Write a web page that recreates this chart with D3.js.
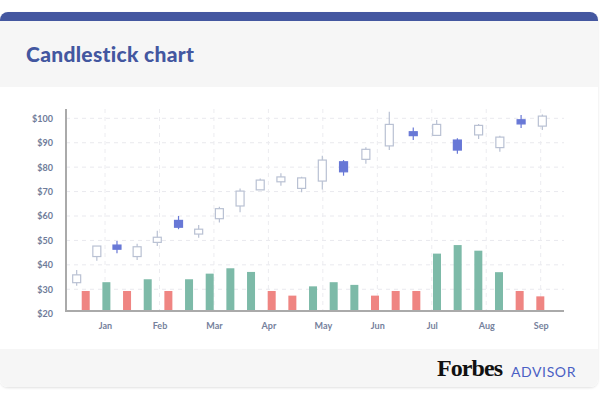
<!DOCTYPE html>
<html><head><meta charset="utf-8">
<script src="https://cdn.jsdelivr.net/npm/d3@7"></script>
<style>
html,body{margin:0;padding:0;background:#fff;}
svg{display:block;}
</style></head>
<body>
<svg id="c" width="600" height="400"></svg>
<script>
// ---- data ----
const monthLabels = ["Jan","Feb","Mar","Apr","May","Jun","Jul","Aug","Sep"];
const priceTicks = [20,30,40,50,60,70,80,90,100];
// candle time positions (in months, 0 = Jan)
const candleTime = [-0.52,-0.15,0.22,0.59,0.96,1.35,1.72,2.10,2.48,2.85,3.23,3.61,3.99,4.38,4.79,5.22,5.66,6.09,6.47,6.86,7.25,7.64,8.03];
const openPrice  = [32.7,43.4,48.1,43.4,49.2,58.2,52.6,58.9,64.1,70.7,74.0,71.3,74.3,82.2,83.2,88.7,94.5,93.0,91.1,93.2,88.0,99.4,96.8];
const closePrice = [35.9,47.7,46.4,47.4,51.3,55.4,54.6,63.0,70.2,74.7,76.0,75.6,82.9,78.1,87.3,97.5,92.9,97.5,87.0,97.1,92.3,97.7,100.9];
const highPrice  = [37.9,47.7,49.8,48.6,54.0,60.0,56.3,63.8,71.3,75.4,77.5,76.1,84.7,82.9,88.1,102.7,96.2,99.3,91.8,97.7,92.9,101.4,101.6];
const lowPrice   = [31.4,41.7,44.7,42.0,47.7,54.6,51.1,57.3,61.5,70.7,72.4,69.7,70.9,76.5,81.4,87.0,91.1,93.0,85.5,91.5,86.3,96.0,95.2];
// volume bars (read against the price axis)
const volume   = [29.3,32.9,29.3,34.1,29.3,34.1,36.4,38.6,37.1,29.3,27.4,31.2,32.9,31.8,27.4,29.3,29.3,44.6,48.1,45.8,37.0,29.3,27.1];
const volumeUp = [0,1,0,1,0,1,1,1,1,0,0,1,1,1,0,0,0,1,1,1,1,0,0];
const volumeStart = -0.354, volumeEnd = 7.993; // months

// ---- layout ----
const svg = d3.select("#c");
const W = 600;
const card = {x:0, y:12, w:598, h:375};
const defs = svg.append("defs");
defs.append("clipPath").attr("id","cardClip").append("rect")
  .attr("x",card.x).attr("y",card.y).attr("width",card.w).attr("height",card.h).attr("rx",8);
const f = defs.append("filter").attr("id","sh").attr("x","-5%").attr("y","-5%").attr("width","110%").attr("height","115%");
f.append("feDropShadow").attr("dx",0).attr("dy",1).attr("stdDeviation",1.2).attr("flood-color","#000").attr("flood-opacity",0.12);

svg.append("rect").attr("x",card.x).attr("y",card.y).attr("width",card.w).attr("height",card.h)
  .attr("rx",8).attr("fill","#fff").attr("filter","url(#sh)");
const cg = svg.append("g").attr("clip-path","url(#cardClip)");
cg.append("rect").attr("x",0).attr("y",12).attr("width",W).attr("height",9).attr("fill","#4457a0");
cg.append("rect").attr("x",0).attr("y",21).attr("width",W).attr("height",66).attr("fill","#f6f6f6");
cg.append("rect").attr("x",0).attr("y",87).attr("width",W).attr("height",262).attr("fill","#ffffff");
cg.append("rect").attr("x",0).attr("y",349).attr("width",W).attr("height",40).attr("fill","#f6f6f6");

svg.append("text").attr("x",26).attr("y",62)
  .attr("font-family","Lato, 'Open Sans', sans-serif").attr("font-weight",900).attr("font-size",21)
  .attr("letter-spacing",0.3)
  .attr("fill","#4357a0").text("Candlestick chart");

// ---- scales ----
const x = d3.scaleLinear().domain([0, monthLabels.length-1]).range([105, 540.7]);
const y = d3.scaleLinear().domain([20,100]).range([313.7,118.3]);
const baseY = 311, axisLeftX = 66, gridRight = 564, gridTop = 109;
const xb = d3.scalePoint().domain(d3.range(volume.length)).range([x(volumeStart), x(volumeEnd)]);

const chart = svg.append("g");

// grid
chart.append("g").selectAll("line").data(priceTicks.filter(d=>d>20)).join("line")
  .attr("x1",axisLeftX).attr("x2",gridRight).attr("y1",d=>y(d)).attr("y2",d=>y(d))
  .attr("stroke","#e9e9ee").attr("stroke-width",1).attr("stroke-dasharray","4,4");
chart.append("g").selectAll("line").data(monthLabels).join("line")
  .attr("x1",(d,i)=>x(i)).attr("x2",(d,i)=>x(i)).attr("y1",gridTop).attr("y2",baseY)
  .attr("stroke","#ececf0").attr("stroke-width",1).attr("stroke-dasharray","4,4");

// y axis labels
const yAxis = d3.axisLeft(y).tickValues(priceTicks).tickSize(0).tickPadding(13).tickFormat(d=>"$"+d);
const ya = chart.append("g").attr("transform",`translate(${axisLeftX},0)`).call(yAxis);
ya.select(".domain").remove();
ya.selectAll("text").attr("font-family","Lato, sans-serif").attr("font-weight",700)
  .attr("font-size",9).attr("fill","#6f7b99");

// x axis labels
const xAxis = d3.axisBottom(x).tickValues(d3.range(monthLabels.length)).tickSize(0).tickPadding(12)
  .tickFormat(i=>monthLabels[i]);
const xa = chart.append("g").attr("transform",`translate(0,${baseY})`).call(xAxis);
xa.select(".domain").remove();
xa.selectAll("text").attr("font-family","Lato, sans-serif").attr("font-weight",700)
  .attr("font-size",9).attr("fill","#75819c");

// volume bars
chart.append("g").selectAll("rect").data(volume).join("rect")
  .attr("x",(d,i)=>xb(i)-4).attr("width",8)
  .attr("y",d=>y(d)).attr("height",d=>baseY-y(d))
  .attr("fill",(d,i)=>volumeUp[i] ? "#7dbaa8" : "#ef8582");

// axis lines
chart.append("line").attr("x1",axisLeftX).attr("x2",axisLeftX).attr("y1",gridTop).attr("y2",baseY+1)
  .attr("stroke","#aaaaaa").attr("stroke-width",2);
chart.append("line").attr("x1",axisLeftX-1).attr("x2",gridRight).attr("y1",baseY).attr("y2",baseY)
  .attr("stroke","#aaaaaa").attr("stroke-width",2);

// candles
const cdl = chart.append("g").selectAll("g").data(candleTime).join("g");
cdl.append("line")
  .attr("x1",d=>x(d)).attr("x2",d=>x(d))
  .attr("y1",(d,i)=>y(highPrice[i])).attr("y2",(d,i)=>y(lowPrice[i]))
  .attr("stroke",(d,i)=>closePrice[i]<openPrice[i] ? "#6878d6" : "#b9c1d3").attr("stroke-width",1.2);
cdl.append("rect")
  .attr("x",d=>x(d)-4).attr("width",8)
  .attr("y",(d,i)=>y(Math.max(openPrice[i],closePrice[i])))
  .attr("height",(d,i)=>Math.max(1,Math.abs(y(openPrice[i])-y(closePrice[i]))))
  .attr("fill",(d,i)=>closePrice[i]<openPrice[i] ? "#6878d6" : "#ffffff")
  .attr("stroke",(d,i)=>closePrice[i]<openPrice[i] ? "#6878d6" : "#b9c1d3")
  .attr("stroke-width",1.2);

// footer logo
svg.append("text").attr("x",437).attr("y",376)
  .attr("font-family","'Liberation Serif','DejaVu Serif',serif").attr("font-weight",700)
  .attr("font-size",24).attr("letter-spacing",-0.9).attr("fill","#111").text("Forbes");
svg.append("text").attr("x",511).attr("y",376.5)
  .attr("font-family","Lato, 'Open Sans', sans-serif").attr("font-weight",400)
  .attr("font-size",14).attr("letter-spacing",0.6).attr("fill","#4a60c4").text("ADVISOR");
</script>
</body></html>
